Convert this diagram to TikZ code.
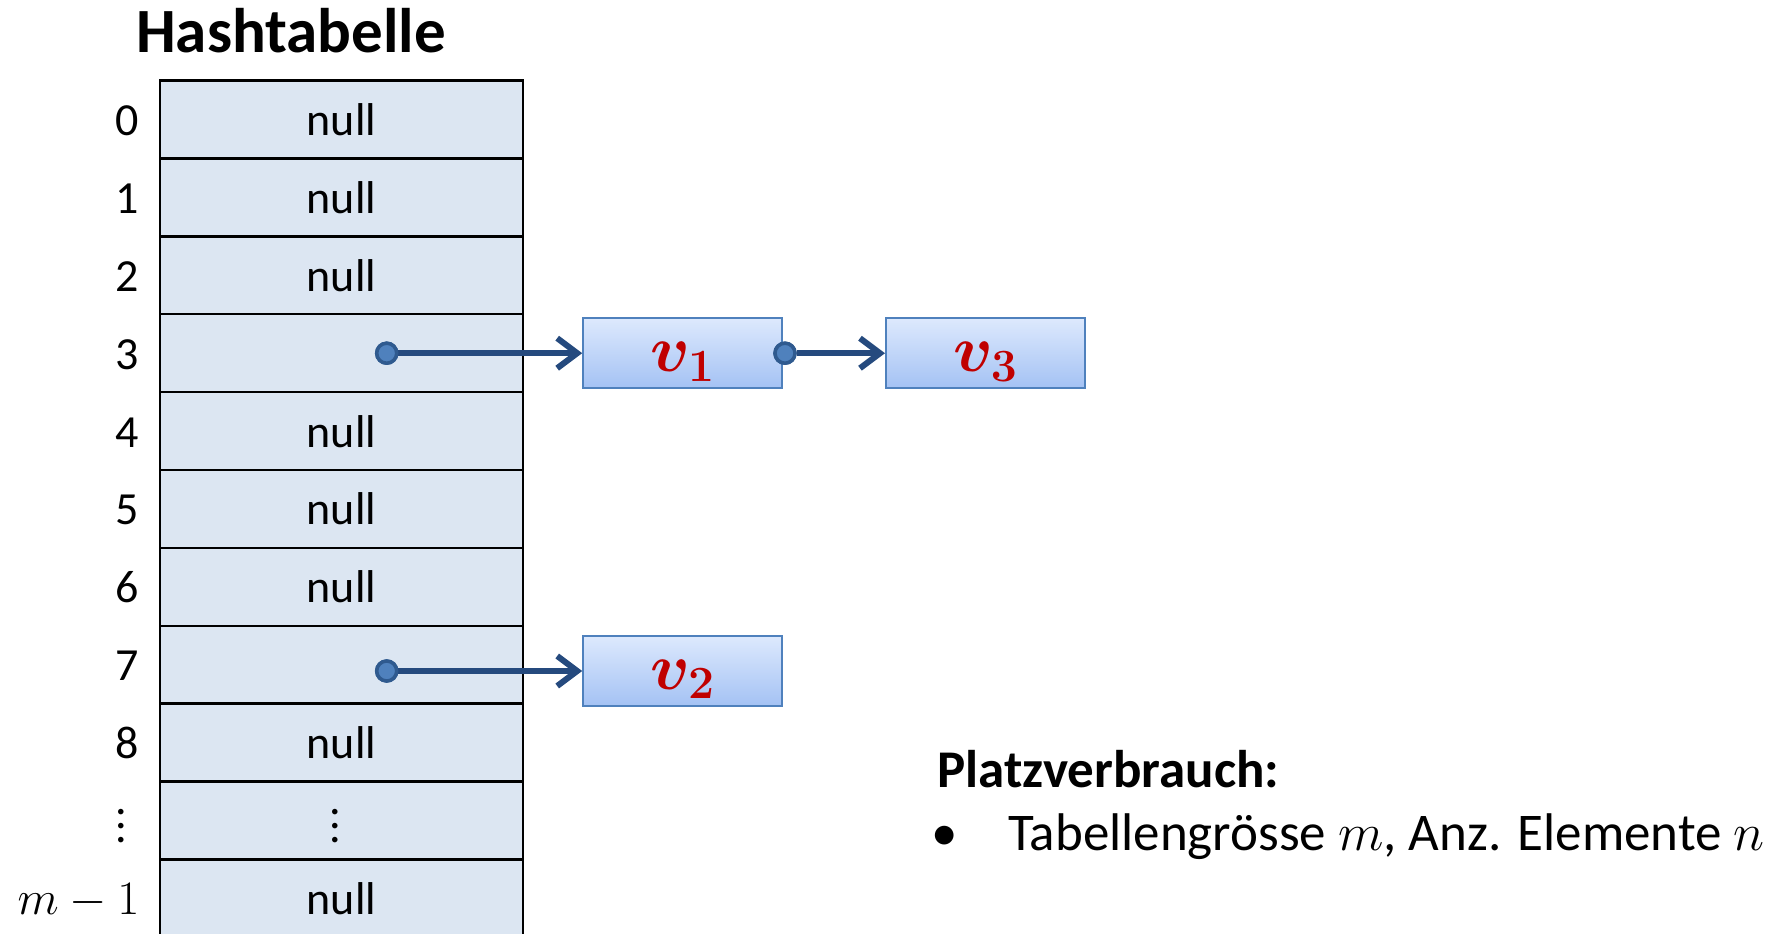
\RequirePackage{fix-cm}
\documentclass[tikz,border=0pt]{standalone}
\usepackage[no-math]{fontspec}
\setmainfont{Carlito}
\usepackage{bm}
\usetikzlibrary{arrows.meta}
\definecolor{cellfill}{HTML}{DCE6F2}
\definecolor{boxtop}{HTML}{DDE9FD}
\definecolor{boxbot}{HTML}{A4C2F4}
\definecolor{boxline}{HTML}{4F81BD}
\definecolor{ptrcol}{HTML}{254A7E}
\definecolor{dotfill}{HTML}{4F81BD}
\definecolor{dotline}{HTML}{2F5A8F}
\definecolor{valred}{HTML}{C00000}
\newcommand{\myvdots}{\vbox{\baselineskip=14pt\lineskiplimit=-100pt\lineskip=0pt\hbox{.}\hbox{.}\hbox{.}}}
\begin{document}
\begin{tikzpicture}[x=1pt,y=-1pt,
  cell/.style={draw=black, line width=2.5pt, fill=cellfill, minimum width=363pt, minimum height=77.9pt, inner sep=0pt,
    font=\fontsize{46}{52}\selectfont, text height=32pt, text depth=0pt},
  idx/.style={anchor=east, inner sep=0pt, font=\fontsize{46}{52}\selectfont, text height=32pt, text depth=0pt},
  dotsym/.style={inner sep=0pt, font=\fontsize{46}{52}\selectfont},
  vbox/.style={draw=boxline, line width=2pt, top color=boxtop, bottom color=boxbot, minimum width=199pt, minimum height=70pt,
    inner sep=0pt, text=valred, font=\fontsize{66}{72}\selectfont, text height=36pt, text depth=0pt},
  ptr/.style={draw=ptrcol, line width=6pt, -{Straight Barb[length=20pt,width=30pt]}},
  dotnode/.style={circle, fill=dotfill, draw=dotline, line width=3.5pt, minimum size=20pt, inner sep=0pt}]
\useasboundingbox (0,0) rectangle (1778,934);
\node[font=\bfseries\fontsize{63}{70}\selectfont, anchor=base, inner sep=0pt] (title) at (291,53) {Hashtabelle};
\foreach \i/\t in {0/null,1/null,2/null,3/{},4/null,5/null,6/null,7/{},8/null,9/{},10/null}{
  \node[cell] (c\i) at (341.5,{80.5+77.9*(\i+0.5)}) {\t};
}
\node[dotsym] (cd9) at (335.5,826) {\myvdots};
\foreach \i in {0,...,8}{
  \node[idx] (l\i) at (139.5,{80.5+77.9*(\i+0.5)}) {\i};
}
\node[dotsym] (l9) at (121.5,826) {\myvdots};
\node[idx, font=\fontsize{48}{52}\selectfont] (l10) at (139.5,{80.5+77.9*10.5}) {$m-1$};
\node[vbox] (v1) at (682.7,353.2) {$\bm{v_1}$};
\node[vbox] (v3) at (985.5,353.2) {$\bm{v_3}$};
\node[vbox] (v2) at (682.7,671) {$\bm{v_2}$};
\node[dotnode] (d3) at (386.7,353.2) {};
\node[dotnode] (d1) at (785,353.2) {};
\node[dotnode] (d7) at (386.7,671) {};
\draw[ptr] (d3) -- (v1.west);
\draw[ptr] (d1) -- (v3.west);
\draw[ptr] (d7) -- (v2.west);
\node[dotnode] at (d3) {};
\node[dotnode] at (d1) {};
\node[dotnode] at (d7) {};
\node[anchor=base west, inner sep=0pt, font=\bfseries\fontsize{53}{60}\selectfont] (pv) at (937,787) {Platzverbrauch:};
\node[anchor=base, inner sep=0pt, font=\fontsize{53}{60}\selectfont] (bul) at (945,850.5) {\textbullet};
\node[anchor=base west, inner sep=0pt, font=\fontsize{53}{60}\selectfont] (txt) at (1008,850.5) {Tabellengrösse $m$, Anz. Elemente $n$};
\end{tikzpicture}
\end{document}
